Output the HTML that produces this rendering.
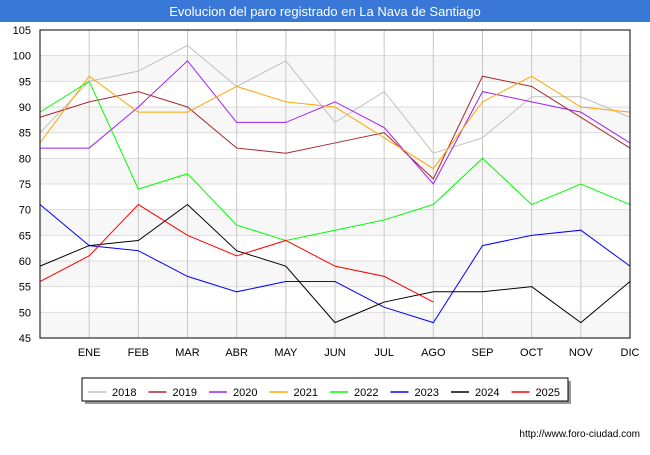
<!DOCTYPE html>
<html><head><meta charset="utf-8"><style>
body{margin:0;width:650px;height:450px;background:#fff;font-family:"Liberation Sans",sans-serif;overflow:hidden}
</style></head><body>
<svg width="650" height="450" font-family="Liberation Sans, sans-serif">
<rect x="0" y="0" width="650" height="22" fill="#3a78d8"/>
<text x="325" y="16" text-anchor="middle" fill="#fff" font-size="13">Evolucion del paro registrado en La Nava de Santiago</text>
<g id="grid"></g><g id="series"></g>
<rect x="40" y="30" width="590" height="308" fill="none" stroke="#000" stroke-width="1"/>
<g id="legend"></g>
<text x="640" y="437" text-anchor="end" font-size="10" fill="#000">http://www.foro-ciudad.com</text>
</svg>
<script>
const months=["","ENE","FEB","MAR","ABR","MAY","JUN","JUL","AGO","SEP","OCT","NOV","DIC"];
const yTicks=[45,50,55,60,65,70,75,80,85,90,95,100,105];
const years=["2018","2019","2020","2021","2022","2023","2024","2025"];
const colors=["#c0c0c0","#a52a2a","#a020f0","#ffa500","#00ff00","#0000ff","#000000","#ff0000"];
const s2018=[85,95,97,102,94,99,87,93,81,84,92,92,88];
const s2019=[88,91,93,90,82,81,83,85,76,96,94,88,82];
const s2020=[82,82,90,99,87,87,91,86,75,93,91,89,83];
const s2021=[83,96,89,89,94,91,90,84,78,91,96,90,89];
const s2022=[89,95,74,77,67,64,66,68,71,80,71,75,71];
const s2023=[71,63,62,57,54,56,56,51,48,63,65,66,59];
const s2024=[59,63,64,71,62,59,48,52,54,54,55,48,56];
const s2025=[56,61,71,65,61,64,59,57,52];
const series=[s2018,s2019,s2020,s2021,s2022,s2023,s2024,s2025];
const NS="http://www.w3.org/2000/svg";
const X=i=>40+i*(590/12), Y=v=>338-(v-45)*(308/60);
function mk(t,a,p){const e=document.createElementNS(NS,t);for(const k in a)e.setAttribute(k,a[k]);p.appendChild(e);return e;}
const g=document.getElementById('grid');
for(let i=0;i<yTicks.length-1;i++){if(i%2==0){const r=mk('rect',{x:40,y:Y(yTicks[i+1]),width:590,height:Y(yTicks[i])-Y(yTicks[i+1]),fill:'#f7f7f7'},g);

}}
yTicks.forEach(v=>{const l=mk('line',{x1:40,x2:630,y1:Y(v),y2:Y(v),stroke:'#dcdcdc'},g);


const t=mk('text',{x:31,y:Y(v)+4,'text-anchor':'end','font-size':11},g);t.textContent=v;

});
months.forEach((m,i)=>{if(i>0){const l=mk('line',{x1:X(i),x2:X(i),y1:30,y2:338,stroke:'#c8c8c8'},g);

}
const t=mk('text',{x:X(i),y:356,'text-anchor':'middle','font-size':11},g);t.textContent=m;

});
const sg=document.getElementById('series');
series.forEach((s,k)=>{const p=mk('polyline',{points:s.map((v,i)=>X(i)+','+Y(v)).join(' '),fill:'none',stroke:colors[k],'stroke-width':1},sg);

});
const lg=document.getElementById('legend');
mk('rect',{x:85,y:381,width:486,height:23,fill:'#999'},lg);
const box=mk('rect',{x:82,y:378,width:486,height:23,fill:'#fff',stroke:'#000'},lg);


years.forEach((y,k)=>{const x0=88+k*60.5;
const l=mk('line',{x1:x0,x2:x0+18,y1:392,y2:392,stroke:colors[k],'stroke-width':1.5},lg);


const t=mk('text',{x:x0+24,y:396,'font-size':11},lg);t.textContent=y;

});
</script>
</body></html>
